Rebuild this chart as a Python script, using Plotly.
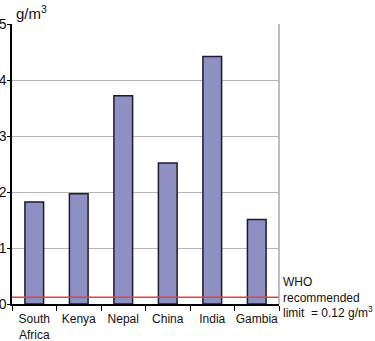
import plotly.graph_objects as go

countries = ["South<br>Africa", "Kenya", "Nepal", "China", "India", "Gambia"]
concentration = [1.82, 1.97, 3.72, 2.52, 4.42, 1.51]
who_limit = 0.12
y_ticks = [0, 1, 2, 3, 4, 5]

FONT = "Liberation Sans, Arial, sans-serif"

fig = go.Figure()
fig.add_trace(go.Bar(
    x=countries, y=concentration,
    marker=dict(color="#8e90c4", line=dict(color="#1c1c2c", width=1.5)),
    width=0.42,
))
fig.add_trace(go.Scatter(
    x=[-0.5, 5.55], y=[who_limit, who_limit], mode="lines",
    line=dict(color="#e8413a", width=1.5), cliponaxis=False,
    xaxis="x2",
))

fig.update_layout(
    width=375, height=341,
    margin=dict(l=12, r=96, t=24, b=37),
    paper_bgcolor="white", plot_bgcolor="white",
    showlegend=False,
    font=dict(family=FONT, color="#111"),
    bargap=0.58,
    xaxis=dict(
        showline=True, linecolor="black", linewidth=1.5,
        ticks="outside", tickson="boundaries", ticklen=5, tickcolor="black",
        tickwidth=1.2, tickfont=dict(size=12), showgrid=False,
        range=[-0.5, 5.5], tickangle=0, automargin=False,
        ticklabelstandoff=3,
    ),
    xaxis2=dict(overlaying="x", range=[-0.5, 5.5], visible=False),
    yaxis=dict(
        range=[0, 5], tickvals=y_ticks, showline=True, linecolor="black",
        linewidth=1.5, ticks="outside", ticklen=3, tickcolor="black",
        tickfont=dict(size=14), showgrid=True, gridcolor="#b4b4b4",
        gridwidth=1.2, zeroline=False, ticklabelstandoff=-2, automargin=False,
    ),
    shapes=[dict(type="line", xref="paper", yref="paper", x0=1, x1=1,
                 y0=0, y1=1, line=dict(color="#a8a8a8", width=1.5))],
    annotations=[
        dict(text="g/m<sup>3</sup>", xref="paper", yref="paper", x=0, y=1,
             xanchor="left", yanchor="bottom", xshift=2, yshift=0,
             showarrow=False, font=dict(size=15)),
        dict(text="WHO<br>recommended<br>limit  = 0.12 g/m<sup>3</sup>",
             xref="paper", yref="y", x=1, y=who_limit, xanchor="left",
             yanchor="middle", xshift=2, yshift=0, align="left",
             showarrow=False, font=dict(size=12)),
    ],
)

fig.write_html("out.html")
